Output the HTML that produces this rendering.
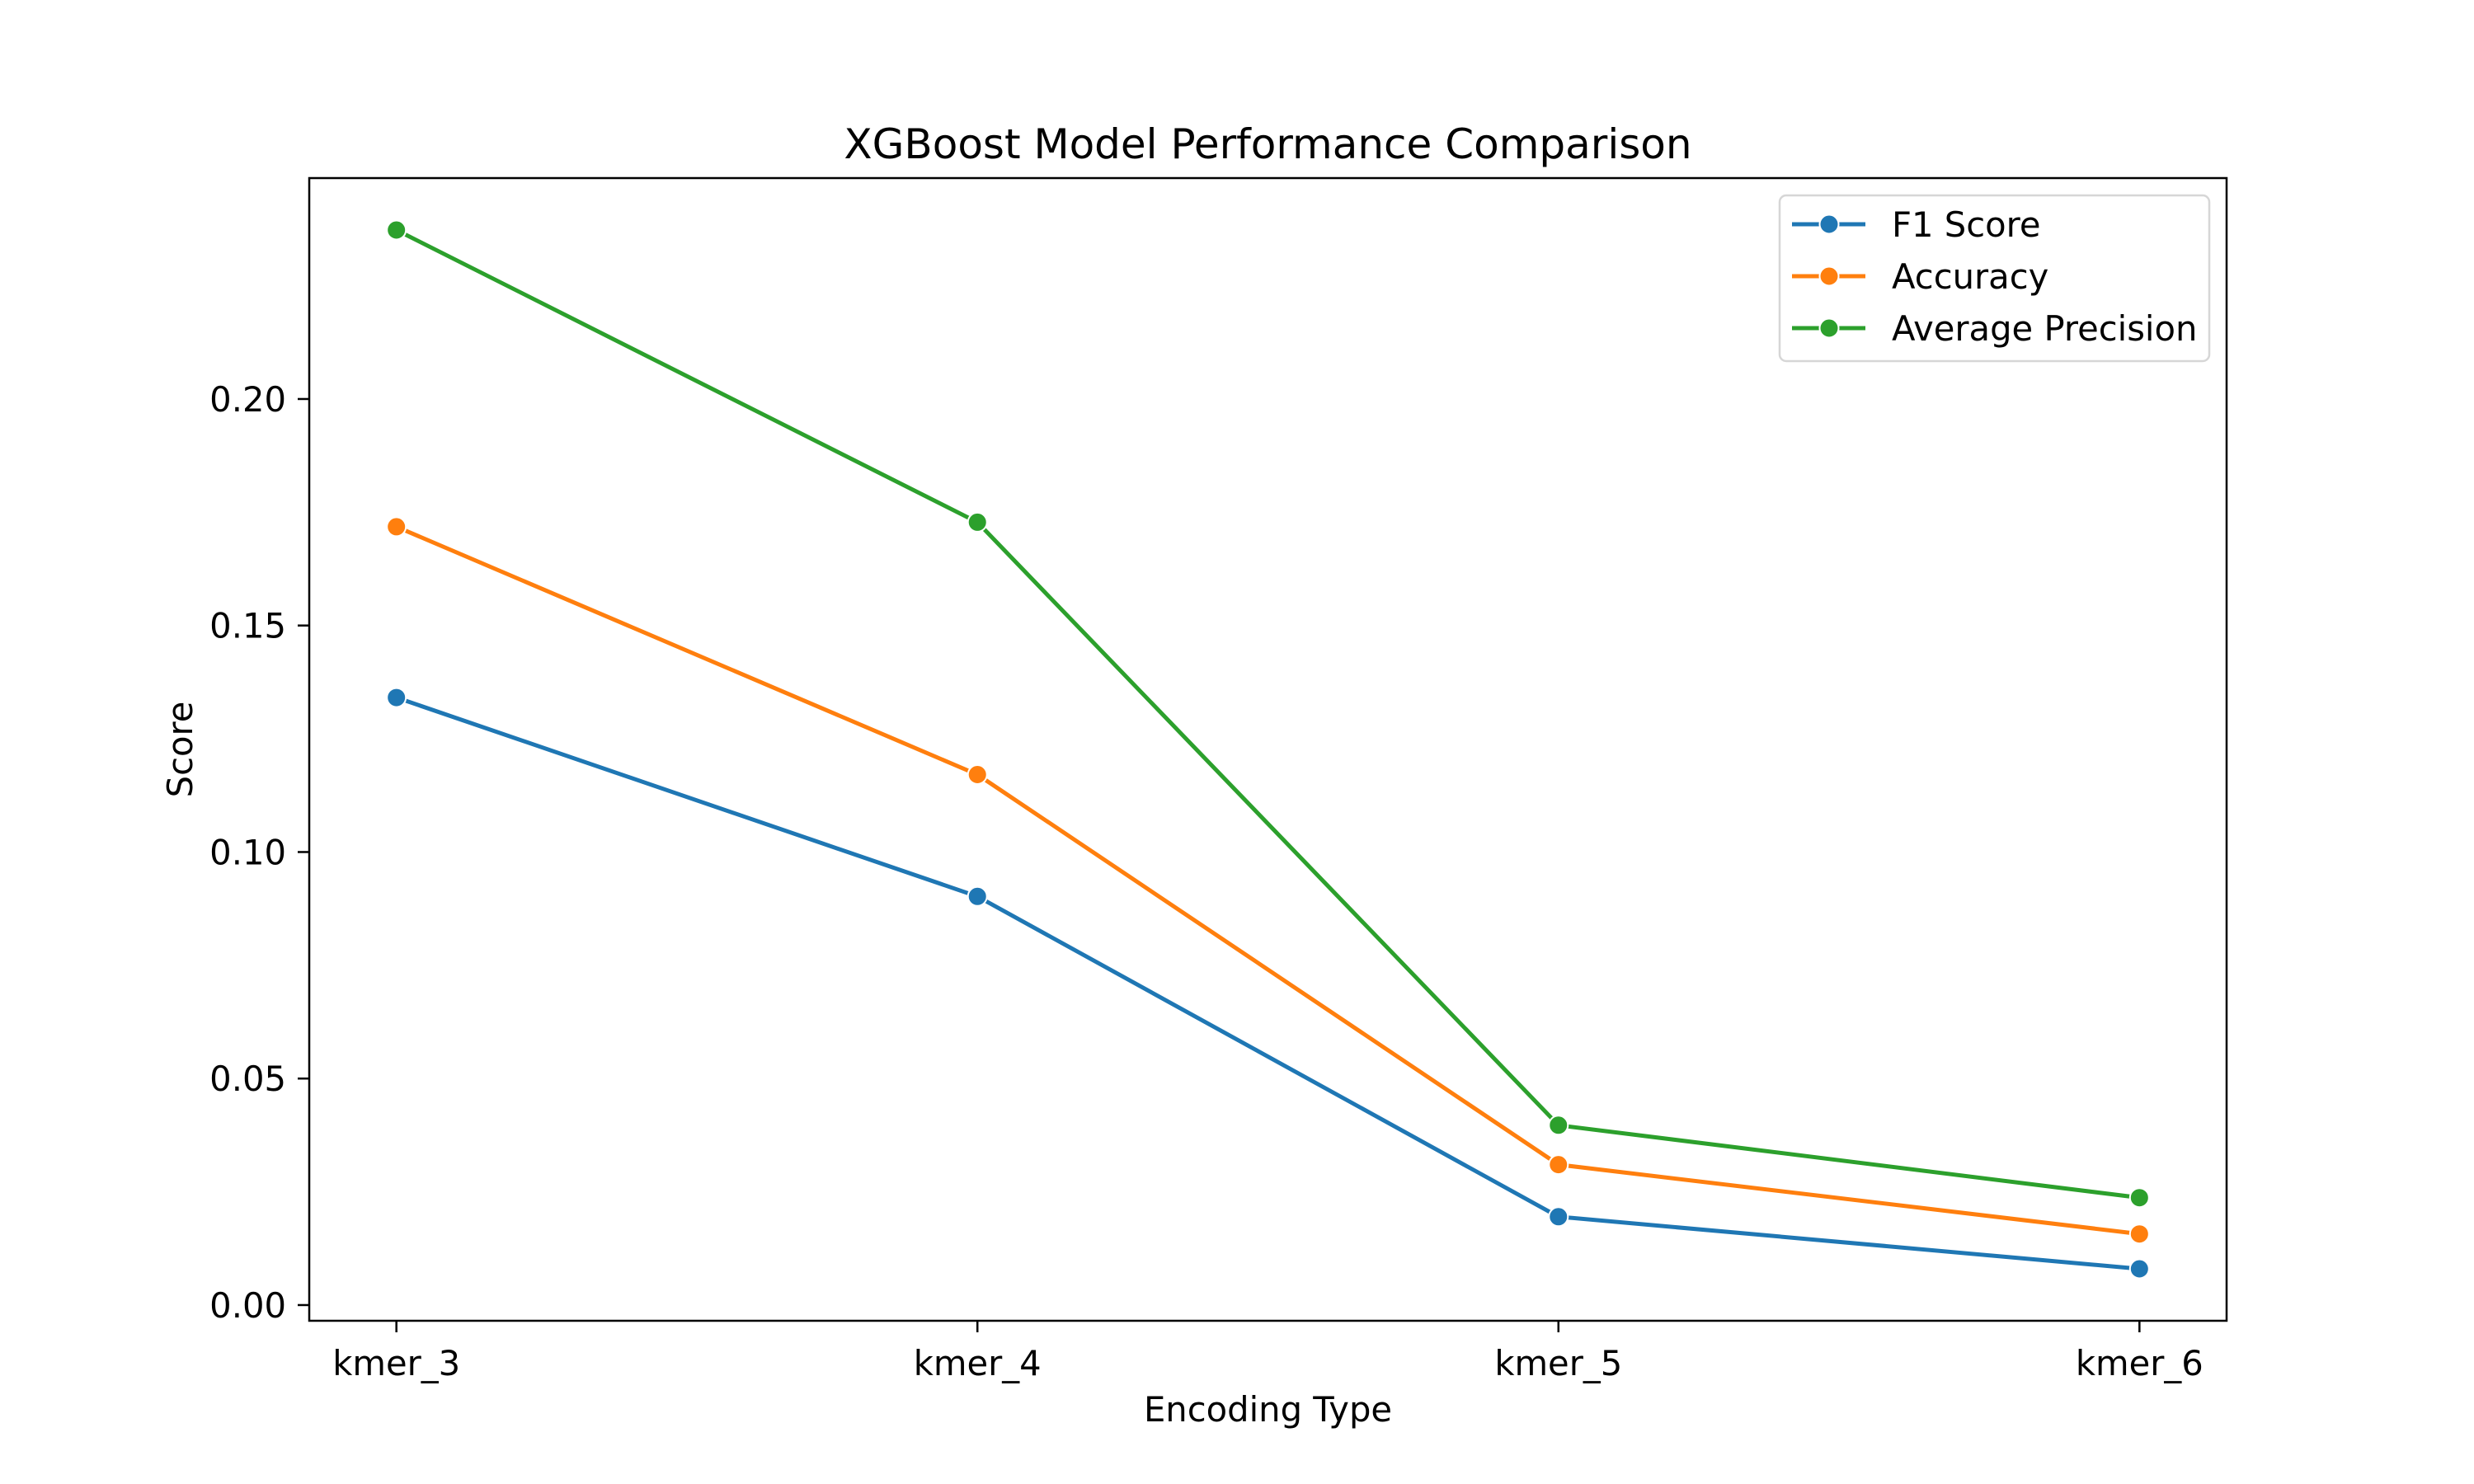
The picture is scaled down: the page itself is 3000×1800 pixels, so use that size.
<!DOCTYPE html>
<html><head><meta charset="utf-8"><style>
html,body{margin:0;padding:0;background:#fff}
svg{display:block;font-family:"DejaVu Sans","Liberation Sans",sans-serif}
</style></head><body>
<svg id="chart" width="3000" height="1800" viewBox="0 0 3000 1800" xmlns="http://www.w3.org/2000/svg">
<rect width="3000" height="1800" fill="#fff"/>
<text x="1537.5" y="192" font-size="50" text-anchor="middle">XGBoost Model Performance Comparison</text>
<g id="plot"></g>
<rect x="375" y="216" width="2325" height="1386" fill="none" stroke="#000" stroke-width="2.5"/>
<text x="1537.5" y="1724" font-size="41.7" text-anchor="middle">Encoding Type</text>
<text x="233" y="909" font-size="41.7" text-anchor="middle" transform="rotate(-90 233 909)">Score</text>
<g id="legend">
<rect x="2158" y="237" width="521" height="201" rx="8" fill="#fff" fill-opacity="0.8" stroke="#d6d6d6" stroke-width="2.5"/>
</g>
</svg>
<script>
const categories = ["kmer_3","kmer_4","kmer_5","kmer_6"];
const f1Score = [0.1341, 0.0902, 0.0195, 0.0080];
const accuracy = [0.1718, 0.1171, 0.0310, 0.0157];
const avgPrecision = [0.2373, 0.1728, 0.0397, 0.0237];
const yTicks = [0.00, 0.05, 0.10, 0.15, 0.20];
const yTickLabels = ["0.00","0.05","0.10","0.15","0.20"];
const seriesNames = ["F1 Score","Accuracy","Average Precision"];

const NS = "http://www.w3.org/2000/svg";
const L=375,R=2700,T=216,B=1602;
const allVals = f1Score.concat(accuracy, avgPrecision);
const vmin = Math.min(...allVals), vmax = Math.max(...allVals);
const pad = (vmax - vmin) * 0.05;
const y0 = vmin - pad, y1 = vmax + pad;
const xScale = i => L + (i + 0.15) / (categories.length - 1 + 0.3) * (R - L);
const yScale = v => B - (v - y0) / (y1 - y0) * (B - T);
const plot = document.getElementById('plot');
function mk(tag, attrs){const e=document.createElementNS(NS,tag);for(const k in attrs)e.setAttribute(k,attrs[k]);return e;}

yTicks.forEach((t,i)=>{
  const y=yScale(t);
  const ln=mk('line',{x1:L-14,x2:L,y1:y,y2:y,stroke:'#000','stroke-width':2.5});
  
  
  plot.appendChild(ln);
  const tx=mk('text',{x:L-28,y:y+15,'font-size':41.7,'text-anchor':'end'});
  tx.textContent=yTickLabels[i];
  
  
  plot.appendChild(tx);
});
categories.forEach((c,i)=>{
  const x=xScale(i);
  const ln=mk('line',{x1:x,x2:x,y1:B,y2:B+14,stroke:'#000','stroke-width':2.5});
  
  
  plot.appendChild(ln);
  const tx=mk('text',{x:x,y:1668,'font-size':41.7,'text-anchor':'middle'});
  tx.textContent=c;
  
  
  plot.appendChild(tx);
});
const series=[f1Score,accuracy,avgPrecision];
const colors=['#1f77b4','#ff7f0e','#2ca02c'];
series.forEach((s,k)=>{
  const g=mk('g',{});
  
  
  const pts=s.map((v,i)=>xScale(i)+','+yScale(v)).join(' ');
  const pl=mk('polyline',{points:pts,fill:'none',stroke:colors[k],'stroke-width':5,'stroke-linejoin':'round','stroke-linecap':'square'});
  
  
  g.appendChild(pl);
  s.forEach((v,i)=>{
    const c=mk('circle',{cx:xScale(i),cy:yScale(v),r:11.5,fill:colors[k],stroke:'#fff','stroke-width':2});
    
    
    g.appendChild(c);
  });
  plot.appendChild(g);
});
const lg=document.getElementById('legend');
seriesNames.forEach((n,k)=>{
  const y=272+k*63;
  const g=mk('g',{});
  
  
  g.appendChild(mk('line',{x1:2173,x2:2262,y1:y,y2:y,stroke:colors[k],'stroke-width':5}));
  g.appendChild(mk('circle',{cx:2218,cy:y,r:11.5,fill:colors[k],stroke:'#fff','stroke-width':2}));
  const t=mk('text',{x:2294,y:y+15,'font-size':41.7});
  t.textContent=n;
  g.appendChild(t);
  lg.appendChild(g);
});
</script>
</body></html>
